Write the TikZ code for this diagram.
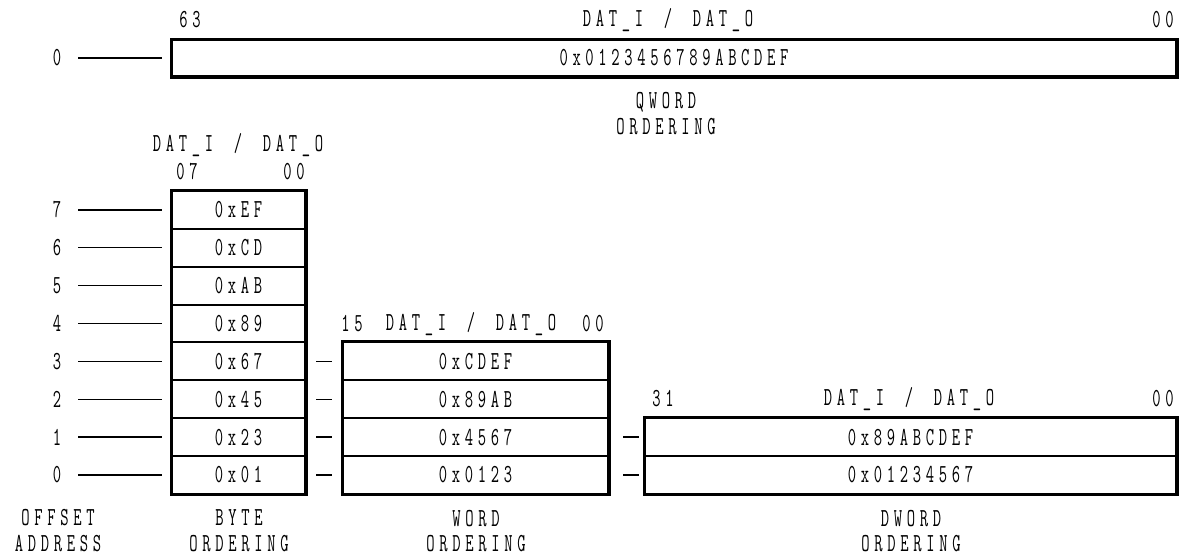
\documentclass[tikz,border=0pt]{standalone}
\usepackage{fontspec}
\newfontfamily\lbl[FakeStretch=0.62,LetterSpace=18,WordSpace=1.6]{Latin Modern Mono}
\begin{document}
\begin{tikzpicture}[x=1pt,y=-1pt,
  font=\lbl\fontsize{26}{24}\selectfont,
  cell/.style={draw, line width=2pt, minimum height=37.86pt, inner sep=0pt},
  bytecell/.style={cell, minimum width=133pt},
  wordcell/.style={cell, minimum width=265pt},
  dwordcell/.style={cell, minimum width=531pt},
  outer/.style={line width=3pt},
  conn/.style={line width=1.2pt},
  txt/.style={inner sep=0pt, align=center}]
\useasboundingbox (0,0) rectangle (1187,557);

% QWORD
\node[cell, minimum width=1004pt, minimum height=36pt] (q) at (674,58) {0x0123456789ABCDEF};
\draw[outer] (q.north west) rectangle (q.south east);
\node[txt] (q63) at (190,20) {63};
\node[txt] (qdat) at (668,20) {DAT\_I / DAT\_O};
\node[txt] (q00) at (1163,20) {00};
\node[txt] (qoff) at (57,58) {0};
\coordinate (qs) at (78,58);
\draw[conn] (qs) -- ([xshift=-9pt]q.west);
\node[txt] (qlab) at (666,102) {QWORD};
\node[txt] (qlab2) at (666,127) {ORDERING};

% BYTE
\node[txt] (bdat) at (238,145) {DAT\_I / DAT\_O};
\node[txt] (b07) at (187,172) {07};
\node[txt] (b00) at (294,172) {00};
\foreach \i/\v in {7/EF,6/CD,5/AB,4/89,3/67,2/45,1/23,0/01}{
  \node[bytecell] (b\i) at (238.5,{191+37.86*(7-\i)+18.93}) {0x\v};
  \node[txt] (o\i) at (57,{191+37.86*(7-\i)+18.93}) {\i};
  \coordinate (os\i) at (78,{191+37.86*(7-\i)+18.93});
  \draw[conn] (os\i) -- ([xshift=-9pt]b\i.west);
}
\draw[outer] (b7.north west) rectangle (b0.south east);
\node[txt] (olab) at (58,518) {OFFSET};
\node[txt] (olab2) at (58,544) {ADDRESS};
\node[txt] (blab) at (239,518) {BYTE};
\node[txt] (blab2) at (239,544) {ORDERING};

% WORD
\node[txt] (w15) at (352,324) {15};
\node[txt] (wdat) at (471,324) {DAT\_I / DAT\_O};
\node[txt] (w00) at (593,324) {00};
\foreach \i/\v in {3/CDEF,2/89AB,1/4567,0/0123}{
  \node[wordcell] (w\i) at (475.5,{191+37.86*(7-\i)+18.93}) {0x\v};
  \draw[conn] ([xshift=10pt]b\i.east) -- ([xshift=-10pt]w\i.west);
}
\draw[outer] (w3.north west) rectangle (w0.south east);
\node[txt] (wlab) at (476,519) {WORD};
\node[txt] (wlab2) at (476,544) {ORDERING};

% DWORD
\node[txt] (d31) at (663,399) {31};
\node[txt] (ddat) at (909,399) {DAT\_I / DAT\_O};
\node[txt] (d00) at (1163,399) {00};
\foreach \i/\v in {1/89ABCDEF,0/01234567}{
  \node[dwordcell] (d\i) at (910.5,{191+37.86*(7-\i)+18.93}) {0x\v};
  \draw[conn] ([xshift=14pt]w\i.east) -- ([xshift=-5pt]d\i.west);
}
\draw[outer] (d1.north west) rectangle (d0.south east);
\node[txt] (dlab) at (911,519) {DWORD};
\node[txt] (dlab2) at (911,544) {ORDERING};
\end{tikzpicture}
\end{document}
